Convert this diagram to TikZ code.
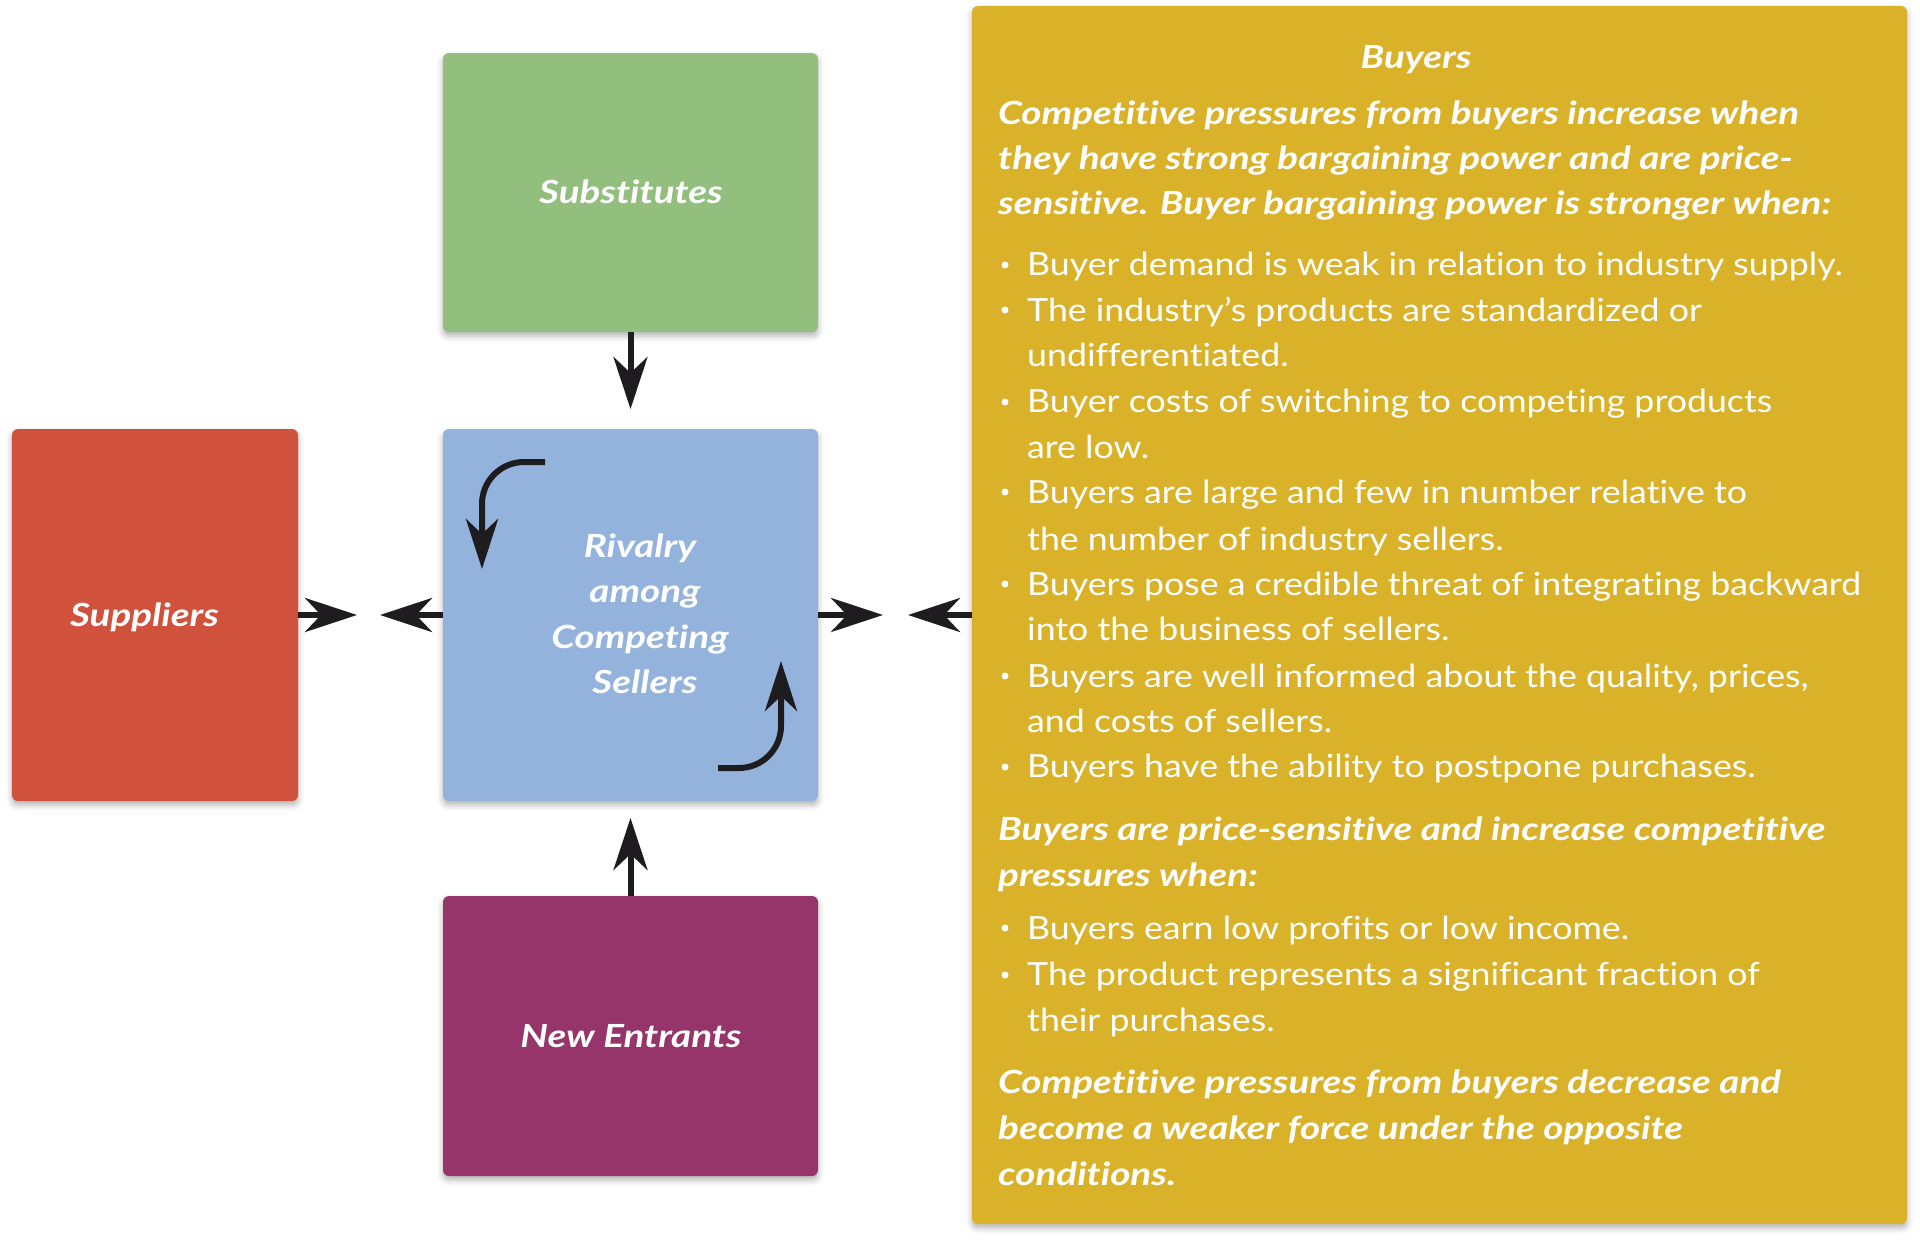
\documentclass[tikz,border=0pt]{standalone}
\usepackage{fontspec}
\setmainfont{Lato}
\newfontfamily\bodyfont[FakeStretch=1.12, Ligatures={NoCommon}]{Lato}
\newfontfamily\headfont[FakeStretch=1.21, Ligatures={NoCommon}]{Lato}
\usetikzlibrary{arrows.meta,shadows.blur}
\definecolor{cgreen}{RGB}{146,191,126}
\definecolor{cblue}{RGB}{148,179,220}
\definecolor{cred}{RGB}{208,82,61}
\definecolor{cpurple}{RGB}{150,53,106}
\definecolor{cgold}{RGB}{218,178,42}
\definecolor{carrow}{RGB}{30,28,30}
\tikzset{
  box/.style={rounded corners=6bp, inner sep=0pt, draw=none,
    blur shadow={shadow xshift=0bp, shadow yshift=-4bp, shadow blur radius=6bp, shadow opacity=30}},
  boxlabel/.style={font=\fontsize{32}{38}\selectfont\headfont\bfseries\itshape, text=white, inner sep=0pt, anchor=base},
  arr/.style={draw=carrow, line width=6bp, -{Stealth[length=52bp, width=34bp, inset=16bp]}},
  carr/.style={draw=carrow, line width=6bp, rounded corners=42bp, -{Stealth[length=50bp, width=32bp, inset=15bp]}},
  hd/.style={font=\fontsize{32}{38}\selectfont\headfont\bfseries\itshape, text=white, inner sep=0pt, anchor=base west},
  bd/.style={font=\fontsize{32}{38}\selectfont\bodyfont, text=white, inner sep=0pt, anchor=base west},
  dot/.style={circle, fill=white, inner sep=0pt, minimum size=7bp},
}
\begin{document}
\begin{tikzpicture}[x=1bp,y=-1bp]
\useasboundingbox (0,0) rectangle (1920,1247);
% boxes
\node[box, fill=cgreen, minimum width=375bp, minimum height=279bp] (sub) at (630.5,192.5) {};
\node[box, fill=cblue, minimum width=375bp, minimum height=372bp] (riv) at (630.5,615) {};
\node[box, fill=cred, minimum width=286bp, minimum height=372bp] (sup) at (155,615) {};
\node[box, fill=cpurple, minimum width=375bp, minimum height=280bp] (new) at (630.5,1036) {};
\node[box, fill=cgold, minimum width=935bp, minimum height=1218bp] (buy) at (1439.5,615) {};
% box labels
\node[boxlabel] (subl) at (631,203) {Substitutes};
\node[boxlabel] (supl) at (144.5,626) {Suppliers};
\node[boxlabel] (newl) at (631,1047) {New Entrants};
\node[boxlabel] (rl1) at (640,557) {Rivalry};
\node[boxlabel] (rl2) at (645,602) {among};
\node[boxlabel] (rl3) at (640,648) {Competing};
\node[boxlabel] (rl4) at (645,693) {Sellers};
% free arrow ends
\coordinate (tSupR) at (357,615);
\coordinate (tRivL) at (380,615);
\coordinate (tRivR) at (883,615);
\coordinate (tBuyL) at (908,615);
\coordinate (tSubD) at (630.5,409);
\coordinate (tNewU) at (630.5,818);
\coordinate (c1s) at (545,462);
\coordinate (c1m) at (482,462);
\coordinate (c1e) at (482,569);
\coordinate (c2s) at (718,768);
\coordinate (c2m) at (781,768);
\coordinate (c2e) at (781,661);
% arrows
\draw[arr] (sup.east) -- (tSupR);
\draw[arr] (riv.west) -- (tRivL);
\draw[arr] (riv.east) -- (tRivR);
\draw[arr] (buy.west) -- (tBuyL);
\draw[arr] (sub.south) -- (tSubD);
\draw[arr] (new.north) -- (tNewU);
\draw[carr] (c1s) -- (c1m) -- (c1e);
\draw[carr] (c2s) -- (c2m) -- (c2e);
% buyers text
\node[boxlabel] (bt) at (1416,68) {Buyers};
\node[hd] (h1) at (998,124) {Competitive pressures from buyers increase when};
\node[hd] (h2) at (998,169) {they have strong bargaining power and are price-};
\node[hd] (h3) at (998,214) {sensitive. Buyer bargaining power is stronger when:};
\node[dot] (d1) at (1005,265) {};
\node[bd] (b1) at (1027,275.5) {Buyer demand is weak in relation to industry supply.};
\node[dot] (d2) at (1005,310) {};
\node[bd] (b2) at (1027,321) {The industry’s products are standardized or};
\node[bd] (b2b) at (1027,366) {undifferentiated.};
\node[dot] (d3) at (1005,402) {};
\node[bd] (b3) at (1027,412.5) {Buyer costs of switching to competing products};
\node[bd] (b3b) at (1027,458) {are low.};
\node[dot] (d4) at (1005,492) {};
\node[bd] (b4) at (1027,503) {Buyers are large and few in number relative to};
\node[bd] (b4b) at (1027,550) {the number of industry sellers.};
\node[dot] (d5) at (1005,584) {};
\node[bd] (b5) at (1027,595) {Buyers pose a credible threat of integrating backward};
\node[bd] (b5b) at (1027,640.5) {into the business of sellers.};
\node[dot] (d6) at (1005,676) {};
\node[bd] (b6) at (1027,687) {Buyers are well informed about the quality, prices,};
\node[bd] (b6b) at (1027,732) {and costs of sellers.};
\node[dot] (d7) at (1005,767) {};
\node[bd] (b7) at (1027,777.5) {Buyers have the ability to postpone purchases.};
\node[hd] (h4) at (998,840) {Buyers are price-sensitive and increase competitive};
\node[hd] (h5) at (998,886.5) {pressures when:};
\node[dot] (d8) at (1005,928) {};
\node[bd] (b8) at (1027,939) {Buyers earn low profits or low income.};
\node[dot] (d9) at (1005,975) {};
\node[bd] (b9) at (1027,985.7) {The product represents a significant fraction of};
\node[bd] (b9b) at (1027,1031) {their purchases.};
\node[hd] (h6) at (998,1093.5) {Competitive pressures from buyers decrease and};
\node[hd] (h7) at (998,1139) {become a weaker force under the opposite};
\node[hd] (h8) at (998,1185) {conditions.};
\end{tikzpicture}
\end{document}
